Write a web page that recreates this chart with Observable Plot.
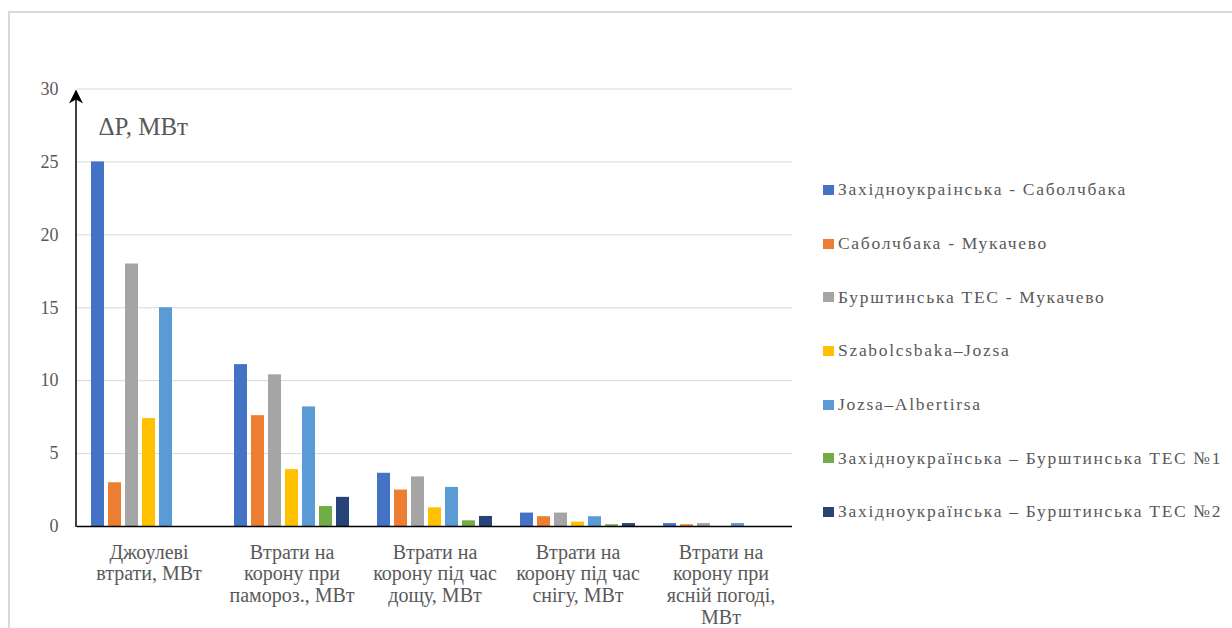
<!DOCTYPE html>
<html>
<head>
<meta charset="utf-8">
<script src="https://cdn.jsdelivr.net/npm/d3@7"></script>
<script src="https://cdn.jsdelivr.net/npm/@observablehq/plot@0.6"></script>
<style>
  html, body { margin: 0; padding: 0; background: #fff; width: 1232px; height: 628px; overflow: hidden; }
  #frame { position: absolute; left: 8px; top: 11px; width: 1400px; height: 800px; border: 2px solid #d9d9d9; box-sizing: border-box; }
  #chart { position: absolute; left: 0; top: 0; }
  #chart svg text { font-family: "Liberation Serif", "Times New Roman", serif; }
  #legend { position: absolute; left: 823px; top: 163px; font-family: "Liberation Serif", "Times New Roman", serif; font-size: 17.5px; letter-spacing: 1.7px; color: #595959; }
  #legend .row { height: 53.7px; display: flex; align-items: center; white-space: nowrap; }
  #legend .sw { width: 11px; height: 10px; margin-right: 4px; flex: none; }
</style>
</head>
<body>
<div id="frame"></div>
<div id="chart"></div>
<div id="legend"></div>
<script>
const categories = [
  "Джоулеві\nвтрати, МВт",
  "Втрати на\nкорону при\nпамороз., МВт",
  "Втрати на\nкорону під час\nдощу, МВт",
  "Втрати на\nкорону під час\nснігу, МВт",
  "Втрати на\nкорону при\nясній погоді,\nМВт"
];
const series = [
  "Західноукраінська - Саболчбака",
  "Саболчбака - Мукачево",
  "Бурштинська ТЕС - Мукачево",
  "Szabolcsbaka–Jozsa",
  "Jozsa–Albertirsa",
  "Західноукраїнська – Бурштинська ТЕС №1",
  "Західноукраїнська – Бурштинська ТЕС №2"
];
const colors = ["#4472C4", "#ED7D31", "#A5A5A5", "#FFC000", "#5B9BD5", "#70AD47", "#264478"];
const s1 = [25, 11.1, 3.65, 0.92, 0.2];
const s2 = [3.0, 7.6, 2.5, 0.67, 0.12];
const s3 = [18, 10.4, 3.4, 0.92, 0.2];
const s4 = [7.4, 3.9, 1.28, 0.3, 0];
const s5 = [15, 8.2, 2.68, 0.67, 0.2];
const s6 = [0, 1.37, 0.39, 0.12, 0];
const s7 = [0, 2.0, 0.69, 0.2, 0];
const yTicks = [0, 5, 10, 15, 20, 25, 30];
const yLabel = "ΔP, МВт";

const valuesBySeries = [s1, s2, s3, s4, s5, s6, s7];
const data = [];
categories.forEach((c, ci) => {
  series.forEach((s, si) => {
    data.push({cat: c, series: s, value: valuesBySeries[si][ci]});
  });
});

const gray = "#595959";
const serif = "'Liberation Serif', 'Times New Roman', serif";
const plot = Plot.plot({
  width: 1232,
  height: 628,
  marginLeft: 76,
  marginRight: 439,
  marginTop: 88.5,
  marginBottom: 102,
  style: {background: "transparent", fontFamily: serif, color: gray},
  fx: {domain: categories, padding: 0, label: null},
  x: {domain: series, paddingInner: 0.23, paddingOuter: 0.75, axis: null},
  y: {domain: [0, 30], label: null},
  color: {domain: series, range: colors},
  marks: [
    Plot.gridY({ticks: yTicks.slice(1), stroke: "#d9d9d9", strokeOpacity: 1, strokeWidth: 1}),
    Plot.barY(data, {fx: "cat", x: "series", y: "value", fill: "series"}),
    Plot.ruleY([0], {stroke: "#000", strokeWidth: 1.5}),
    Plot.axisY({ticks: yTicks, tickSize: 0, tickPadding: 19, fontSize: 18, fontFamily: serif, fill: gray, label: null}),
    Plot.axisFx({anchor: "bottom", tickSize: 0, tickPadding: 17, fontSize: 20, lineHeight: 1.08, fontFamily: serif, fill: gray, label: null}),
    Plot.text([yLabel], {fx: () => categories[0], frameAnchor: "top-left", textAnchor: "start", dx: 21, dy: 28, fontSize: 25, fontFamily: serif, fill: gray, text: d => d})
  ]
});
document.getElementById("chart").appendChild(plot);

// y axis line with arrowhead, positioned from the plot's y scale
const ys = plot.scale("y");
const y0 = ys.apply(0), y30 = ys.apply(30);
const ax = 76;
const svg = d3.select(plot);
svg.append("line").attr("x1", ax).attr("x2", ax).attr("y1", y0 + 1).attr("y2", y30 + 8)
  .attr("stroke", "#000").attr("stroke-width", 1.5);
svg.append("path")
  .attr("d", `M${ax},${y30 + 1}L${ax - 7},${y30 + 15}L${ax},${y30 + 11}L${ax + 7},${y30 + 15}Z`)
  .attr("fill", "#000");

// legend
const legend = document.getElementById("legend");
series.forEach((s, i) => {
  const row = document.createElement("div");
  row.className = "row";
  const sw = document.createElement("span");
  sw.className = "sw";
  sw.style.background = colors[i];
  const t = document.createElement("span");
  t.textContent = s;
  row.appendChild(sw);
  row.appendChild(t);
  legend.appendChild(row);
});
</script>
</body>
</html>
